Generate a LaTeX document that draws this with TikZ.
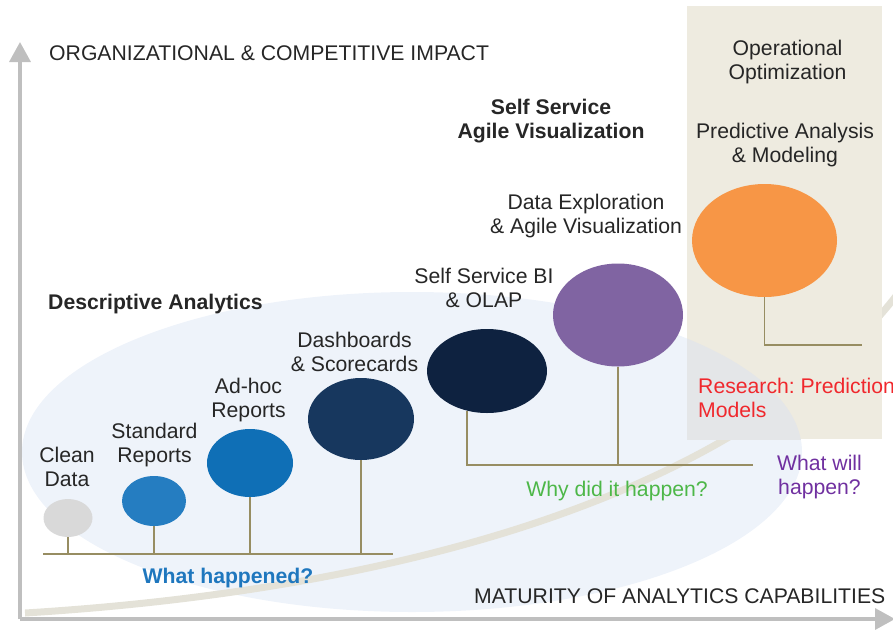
\documentclass[tikz,border=0pt]{standalone}
\usepackage{fontspec}
\setmainfont{Liberation Sans}
\usetikzlibrary{arrows.meta,shapes.geometric}
\frenchspacing
\definecolor{txt}{HTML}{262626}
\definecolor{bgell}{HTML}{EEF3FA}
\definecolor{boxc}{HTML}{EEEBE0}
\definecolor{overl}{HTML}{E4E6E8}
\definecolor{bandc}{HTML}{E4E2D8}
\definecolor{stemc}{HTML}{978D62}
\definecolor{axisc}{HTML}{BFBFBF}
\definecolor{cgray}{HTML}{D9D9D9}
\definecolor{cblueA}{HTML}{257DC1}
\definecolor{cblueB}{HTML}{0F6FB6}
\definecolor{cnavyA}{HTML}{17375E}
\definecolor{cnavyB}{HTML}{0E2240}
\definecolor{cpurple}{HTML}{8064A2}
\definecolor{corange}{HTML}{F79646}
\definecolor{qblue}{HTML}{1F77BE}
\definecolor{qgreen}{HTML}{4DB748}
\definecolor{qpurple}{HTML}{7030A0}
\definecolor{qred}{HTML}{F0282D}
\begin{document}
\begin{tikzpicture}[x=1pt,y=-1pt,
  lbl/.style={font=\fontsize{21.2}{24}\selectfont, text=txt, align=center, anchor=base, inner sep=0pt},
  blbl/.style={lbl, font=\fontsize{21.2}{24}\selectfont\bfseries},
  bubble/.style={ellipse, inner sep=0pt, draw=none},
  stem/.style={draw=stemc, line width=1.6pt},
  axis/.style={draw=axisc, line width=3.5pt, -{Triangle[length=20pt,width=21pt]}}]
\useasboundingbox (0,0) rectangle (893,629);
% background ellipse
\fill[bgell] (412,452) ellipse [x radius=390pt, y radius=160pt];
% band
\draw[bandc, line width=7pt] (25,613) .. controls (400,590) and (740,495) .. (896,296);
% beige box
\fill[boxc] (687,6) rectangle (882,439);
\begin{scope}
  \clip (687,6) rectangle (882,439);
  \fill[overl] (412,452) ellipse [x radius=390pt, y radius=160pt];
\end{scope}
% axes
\coordinate (o) at (20,619);
\coordinate (ytop) at (20,42);
\coordinate (xend) at (895,619);
\draw[axis] (o) -- (ytop);
\draw[axis] (o) -- (xend);
% bubbles
\node[bubble, fill=cgray, minimum width=49pt, minimum height=38pt] (n1) at (68,518) {};
\node[bubble, fill=cblueA, minimum width=64pt, minimum height=50pt] (n2) at (154,501) {};
\node[bubble, fill=cblueB, minimum width=86pt, minimum height=68pt] (n3) at (250,463) {};
\node[bubble, fill=cnavyA, minimum width=106pt, minimum height=82pt] (n4) at (361,419) {};
\node[bubble, fill=cnavyB, minimum width=120pt, minimum height=84pt] (n5) at (487,371) {};
\node[bubble, fill=cpurple, minimum width=130pt, minimum height=103pt] (n6) at (618,315) {};
\node[bubble, fill=corange, minimum width=145pt, minimum height=113pt] (n7) at (764.5,240.5) {};
% stems group 1
\coordinate (g1L) at (43,554);
\coordinate (g1R) at (393,554);
\draw[stem] (g1L) -- (g1R);
\draw[stem] (n1.south) -- (n1.south |- g1L);
\draw[stem] (n2.south) -- (n2.south |- g1L);
\draw[stem] (n3.south) -- (n3.south |- g1L);
\draw[stem] (n4.south) -- (n4.south |- g1L);
% stems group 2
\coordinate (g2R) at (753,465);
\draw[stem] (n5.243) |- (g2R);
\draw[stem] (n6.south) -- (n6.south |- g2R);
% stems group 3
\coordinate (g3R) at (862,345);
\draw[stem] (n7.south) |- (g3R);
% labels (two-line nodes are anchored at the baseline of their last line)
\node[lbl, anchor=base west] (ytitle) at (49,60) {ORGANIZATIONAL \& COMPETITIVE IMPACT};
\node[lbl, anchor=base west] (xtitle) at (474,603) {MATURITY OF ANALYTICS CAPABILITIES};
\node[blbl, anchor=base west] (desc) at (48,309) {Descriptive Analytics};
\node[blbl] (ssav) at (551,138) {Self Service\\Agile Visualization};
\node[lbl] (opt) at (787.5,79) {Operational\\Optimization};
\node[lbl] (pred) at (785,162) {Predictive Analysis\\\& Modeling};
\node[lbl] (dexp) at (586,233) {Data Exploration\\\& Agile Visualization};
\node[lbl] (ssbi) at (484,307) {Self Service BI\\\& OLAP};
\node[lbl] (dash) at (354.5,371) {Dashboards\\\& Scorecards};
\node[lbl] (adhoc) at (248.5,417) {Ad-hoc\\Reports};
\node[lbl] (std) at (154.5,462) {Standard\\Reports};
\node[lbl] (clean) at (67,486) {Clean\\Data};
\node[blbl, text=qblue] (qwhat) at (228,583) {What happened?};
\node[lbl, text=qgreen] (qwhy) at (617,496) {Why did it happen?};
\node[lbl, text=qpurple] (qwill) at (819.5,494) {What will\\happen?};
\node[lbl, text=qred, anchor=base west, align=left] (res) at (698,417) {Research: Prediction\\Models};
\end{tikzpicture}
\end{document}
